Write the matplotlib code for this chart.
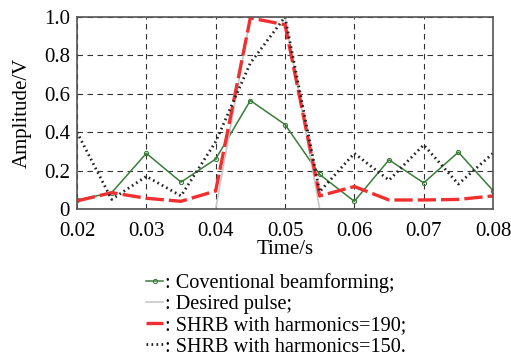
import numpy as np
import matplotlib
matplotlib.use("Agg")
import matplotlib.pyplot as plt
from matplotlib.ticker import FuncFormatter

plt.rcParams['font.family'] = ['Liberation Serif', 'DejaVu Serif']

t = [0.02, 0.025, 0.03, 0.035, 0.04, 0.045, 0.05, 0.055, 0.06, 0.065, 0.07, 0.075, 0.08]
conventional = [0.047, 0.085, 0.29, 0.14, 0.26, 0.565, 0.44, 0.18, 0.04, 0.256, 0.136, 0.296, 0.096]
desired = [0, 0, 0, 0, 0, 1, 1, 0, 0, 0, 0, 0, 0]
shrb190 = [0.042, 0.085, 0.056, 0.04, 0.094, 0.995, 0.96, 0.068, 0.117, 0.047, 0.047, 0.05, 0.068]
shrb150 = [0.40, 0.05, 0.17, 0.068, 0.35, 0.76, 1.0, 0.09, 0.29, 0.15, 0.334, 0.13, 0.29]

fs = 15

fig = plt.figure(figsize=(5.11, 3.61), dpi=100)
ax = fig.add_axes([77/511, 1 - 209/361, (493-77)/511, (209-17)/361])

l1, = ax.plot(t, conventional, color='#3a7d3a', lw=1.1, marker='o', ms=3, mfc='none', mew=0.8)
l2, = ax.plot(t, desired, color='#c8c8c8', lw=1.2)
l3, = ax.plot(t, shrb190, color='#f03030', lw=2.4, dashes=(5.5, 1.5))
l4, = ax.plot(t, shrb150, color='#222222', lw=2.0, linestyle=(0, (0.6, 1.2)))

ax.set_xlim(0.02, 0.08)
ax.set_ylim(0, 1.0)
ax.set_xticks(np.arange(0.02, 0.0801, 0.01))
ax.set_yticks([0, 0.2, 0.4, 0.6, 0.8, 1.0])
ax.yaxis.set_major_formatter(FuncFormatter(lambda v, p: '0' if v == 0 else f'{v:.1f}'))
ax.xaxis.set_major_formatter(FuncFormatter(lambda v, p: f'{v:.2f}'))
ax.tick_params(length=0, labelsize=fs)
ax.tick_params(axis='x', pad=9)
ax.tick_params(axis='y', pad=5)
ax.grid(True, color='#333333', linestyle=(0, (5, 4)), lw=0.8)
for s in ax.spines.values():
    s.set_color('#555555')
    s.set_linewidth(1.2)

ax.set_xlabel('Time/s', fontsize=fs, labelpad=0)
ax.set_ylabel('Amplitude/V', fontsize=fs, labelpad=9)

fig.legend([l1, l2, l3, l4],
           [': Coventional beamforming;', ': Desired pulse;',
            ': SHRB with harmonics=190;', ': SHRB with harmonics=150.'],
           loc='upper left', bbox_to_anchor=(146/511, 1 - 273/361),
           frameon=False, fontsize=14.6, handlelength=0.85, handletextpad=0.1,
           labelspacing=0.1, borderaxespad=0, borderpad=0)

fig.savefig('out.png', dpi=100)
